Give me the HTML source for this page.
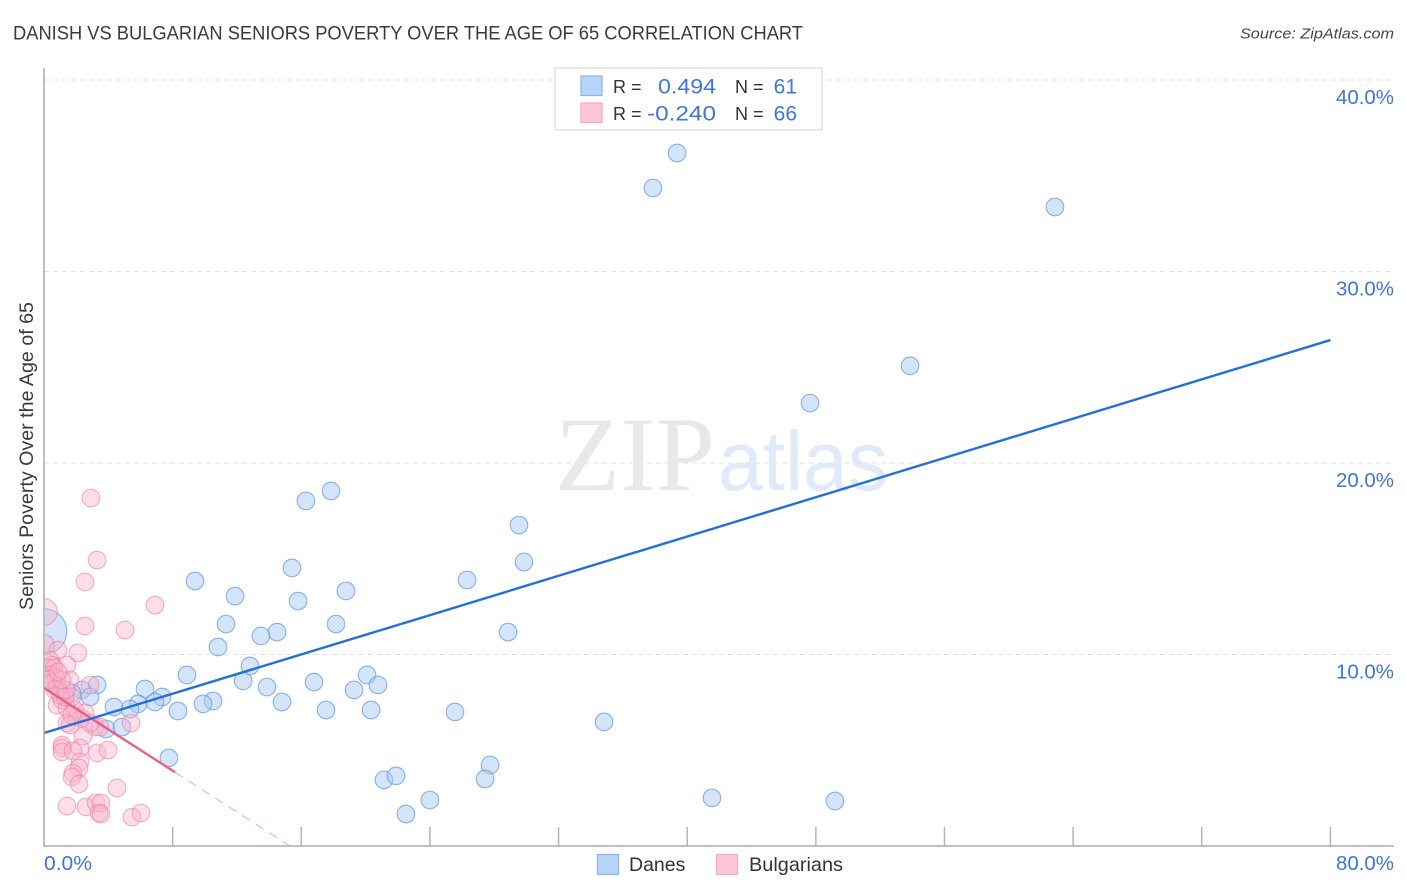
<!DOCTYPE html>
<html>
<head>
<meta charset="utf-8">
<title>Danish vs Bulgarian Seniors Poverty Correlation Chart</title>
<style>
html,body{margin:0;padding:0;background:#fff;width:1406px;height:892px;overflow:hidden}
svg{display:block;font-family:"Liberation Sans",sans-serif}
</style>
</head>
<body>
<svg id="chart" width="1406" height="892" viewBox="0 0 1406 892" xmlns="http://www.w3.org/2000/svg">
  <defs>
    <clipPath id="plot-clip"><rect x="45" y="60" width="1350" height="786"/></clipPath>
  </defs>
  <text x="13" y="39.5" font-size="19" fill="#3a3a3a" textLength="790" lengthAdjust="spacingAndGlyphs">DANISH VS BULGARIAN SENIORS POVERTY OVER THE AGE OF 65 CORRELATION CHART</text>
  <text x="1394" y="38.5" font-size="15" font-style="italic" fill="#444" text-anchor="end" textLength="154" lengthAdjust="spacingAndGlyphs">Source: ZipAtlas.com</text>
  <g id="grid"></g>
  <g>
    <text x="555" y="490" font-family="'Liberation Serif',serif" font-size="106" fill="#e8e8e8" textLength="160" lengthAdjust="spacingAndGlyphs">ZIP</text>
    <text x="718" y="490" font-size="84" fill="#e1eafa" textLength="170" lengthAdjust="spacingAndGlyphs">atlas</text>
  </g>
  <g id="points" clip-path="url(#plot-clip)"></g>
  <g id="trends"></g>
  <g id="axes"></g>
  <text transform="translate(33,456) rotate(-90)" font-size="19" fill="#3a3a3a" text-anchor="middle" textLength="308" lengthAdjust="spacingAndGlyphs">Seniors Poverty Over the Age of 65</text>

  <g>
    <rect x="555" y="68" width="267" height="62" fill="#fff" fill-opacity="0.9" stroke="#e2e2e2" stroke-width="1.5"/>
    <rect x="581" y="76" width="21" height="19.5" fill="#b8d4f8" stroke="#8cb3e6" stroke-width="1.2"/>
    <rect x="581" y="103" width="21" height="19.5" fill="#fcc6d8" stroke="#f4a9c2" stroke-width="1.2"/>
    <text x="613" y="93" font-size="18" fill="#333">R =</text>
    <text x="716" y="93.5" font-size="21" fill="#3f76d6" text-anchor="end" textLength="58" lengthAdjust="spacingAndGlyphs">0.494</text>
    <text x="735" y="93" font-size="18" fill="#333">N =</text>
    <text x="797" y="93.5" font-size="21" fill="#3f76d6" text-anchor="end">61</text>
    <text x="613" y="120" font-size="18" fill="#333">R =</text>
    <text x="716" y="120.5" font-size="21" fill="#3f76d6" text-anchor="end" textLength="69" lengthAdjust="spacingAndGlyphs">-0.240</text>
    <text x="735" y="120" font-size="18" fill="#333">N =</text>
    <text x="797" y="120.5" font-size="21" fill="#3f76d6" text-anchor="end">66</text>
  </g>

  <g>
    <g>
      <rect x="597.5" y="854.5" width="21" height="20" fill="#b8d4f8" stroke="#8cb3e6" stroke-width="1.2"/>
      <text x="629" y="871" font-size="19.5" fill="#333">Danes</text>
    </g>
    <g>
      <rect x="716.5" y="854.5" width="21" height="20" fill="#fcc6d8" stroke="#f4a9c2" stroke-width="1.2"/>
      <text x="749" y="871" font-size="19.5" fill="#333" textLength="94" lengthAdjust="spacingAndGlyphs">Bulgarians</text>
    </g>
  </g>
</svg>
<script>
const danesX = [39.37,37.87,62.87,53.86,47.64,17.85,16.29,29.54,29.85,15.42,9.39,26.31,18.78,11.88,15.80,11.32,18.16,14.49,13.49,28.86,0,10.82,12.81,8.89,20.09,12.38,16.79,20.77,13.87,19.28,6.28,3.30,2.36,1.74,2.86,7.34,10.51,9.89,14.80,5.85,6.90,5.35,4.35,8.33,17.54,20.34,25.56,3.86,4.85,34.83,7.77,27.74,21.14,21.89,27.43,24.0,22.51,41.54,49.19,0.8,1.3];
const danesY = [36.19,34.36,33.37,25.07,23.13,18.54,18.02,16.76,14.83,14.52,13.84,13.89,13.32,13.05,12.79,11.59,11.59,11.17,10.97,11.17,11.2,10.39,9.40,8.93,8.93,8.62,8.56,8.41,8.30,8.15,8.20,8.41,8.15,7.99,7.78,7.78,7.57,7.42,7.52,7.42,7.52,7.15,7.26,7.05,7.10,7.10,7.00,6.11,6.21,6.48,4.60,4.23,3.45,3.66,3.50,2.40,1.67,2.51,2.35,8.4,7.8];
const danesWeight = [1,1,1,1,1,1,1,1,1,1,1,1,1,1,1,1,1,1,1,1,6.7,1,1,1,1,1,1,1,1,1,1,1,1,1,1,1,1,1,1,1,1,1,1,1,1,1,1,1,1,1,1,1,1,1,1,1,1,1,1,1,1];

const bulgariansX = [2.92,3.30,2.55,6.90,0,2.55,5.04,0,2.11,0.87,1.43,0.37,0.5,0.25,0.62,0.37,0.75,0.19,0.5,0.87,1.62,0.68,2.86,0.81,1.12,1.43,1.93,1.31,1.74,2.05,2.36,1.43,1.62,3.17,3.48,5.41,2.43,1.12,1.12,1.12,2.24,1.8,3.3,3.98,2.24,2.18,1.8,1.74,2.18,4.54,1.43,2.61,3.23,3.54,3.42,3.54,5.47,6.03,1.0,1.37,2.55,2.86,1.74,0.25,1.12,0.87];
const bulgariansY = [18.17,14.93,13.79,12.58,12.22,11.49,11.28,10.5,10.08,10.23,9.45,9.71,9.45,9.3,9.3,8.93,8.77,8.77,8.51,8.3,8.67,8.15,8.41,7.36,7.62,7.2,7.1,7.78,7.78,6.74,6.68,6.42,6.32,6.21,6.21,6.42,5.74,5.27,5.12,4.91,5.12,4.96,4.86,5.01,4.39,4.07,3.81,3.6,3.24,3.03,2.09,2.04,2.25,2.25,1.72,1.67,1.51,1.72,7.89,8.15,6.95,6.42,6.84,8.67,8.67,9.09];
const bulgariansWeight = [1,1,1,1,2.3,1,1,1.4,1,1,1,1,1,1,1,1,1,1,1,1,1,1,1,1,1,1,1,1,1,1,1,1,1,1,1,1,1,1,1,1,1,1,1,1,1,1,1,1,1,1,1,1,1,1,1,1,1,1,1,1,1,1,1,1,1,1];

const xTickValues = [8,16,24,32,40,48,56,64,72,80];
const yTickValues = [10,20,30,40];
const yTickLabels = ["10.0%","20.0%","30.0%","40.0%"];
const xEndValues = [0,80];
const xEndLabels = ["0.0%","80.0%"];

const danesTrendX = [0,80];
const danesTrendY = [5.9,26.42];
const bulgariansTrendX = [0,8.15];
const bulgariansTrendY = [8.25,3.85];
const bulgariansDashX = [8.15,15.3];
const bulgariansDashY = [3.85,0];

const NS = 'http://www.w3.org/2000/svg';
function sx(v){ return 44 + v * 16.08; }
function sy(v){ return 846 - v * 19.15; }
function make(tag, attrs, parent){
  const el = document.createElementNS(NS, tag);
  for (const k in attrs) el.setAttribute(k, attrs[k]);
  parent.appendChild(el);
  return el;
}

const grid = document.getElementById('grid');
yTickValues.forEach(function(v){
  const g = make('line', {x1:44, x2:1394, y1:sy(v), y2:sy(v), stroke:'#e2e2e2', 'stroke-width':1, 'stroke-dasharray':'5 4'}, grid);
  
  
});

const axes = document.getElementById('axes');
const yAxis = make('line', {x1:44, x2:44, y1:68, y2:846.8, stroke:'#aaa', 'stroke-width':1.5}, axes);


const xAxis = make('line', {x1:43.2, x2:1394, y1:846, y2:846, stroke:'#aaa', 'stroke-width':1.5}, axes);


xTickValues.forEach(function(v){
  const t = make('line', {x1:sx(v), x2:sx(v), y1:827, y2:846, stroke:'#b4b4b4', 'stroke-width':1.5}, axes);
  
  
});
yTickValues.forEach(function(v, i){
  const t = make('text', {x:1394, y:sy(v) + 24, 'font-size':20, fill:'#3f76d6', 'text-anchor':'end', textLength:58, lengthAdjust:'spacingAndGlyphs'}, axes);
  
  
  t.textContent = yTickLabels[i];
});
xEndValues.forEach(function(v, i){
  const t = make('text', {x: i === 0 ? sx(v) : 1394, y:870, 'font-size':20, fill:'#3f76d6', 'text-anchor': i === 0 ? 'start' : 'end', textLength: i === 0 ? 48 : 58, lengthAdjust:'spacingAndGlyphs'}, axes);
  
  
  t.textContent = xEndLabels[i];
});

const points = document.getElementById('points');
danesX.forEach(function(v, i){
  const c = make('circle', {cx:sx(v), cy:sy(danesY[i]), r:8.8 * Math.sqrt(danesWeight[i]), fill:'#a9c9f3', 'fill-opacity':0.5, stroke:'#5d94de', 'stroke-opacity':0.7, 'stroke-width':1.1}, points);
  
  
});
bulgariansX.forEach(function(v, i){
  const c = make('circle', {cx:sx(v), cy:sy(bulgariansY[i]), r:8.8 * Math.sqrt(bulgariansWeight[i]), fill:'#f9b3ca', 'fill-opacity':0.42, stroke:'#ee7fa3', 'stroke-opacity':0.62, 'stroke-width':1.1}, points);
  
  
});

const trends = document.getElementById('trends');
const dashLine = make('line', {x1:sx(bulgariansDashX[0]), y1:sy(bulgariansDashY[0]), x2:sx(bulgariansDashX[1]), y2:sy(bulgariansDashY[1]), stroke:'#f0a6bd', 'stroke-width':1, 'stroke-dasharray':'9 7'}, trends);


const pinkLine = make('line', {x1:sx(bulgariansTrendX[0]), y1:sy(bulgariansTrendY[0]), x2:sx(bulgariansTrendX[1]), y2:sy(bulgariansTrendY[1]), stroke:'#e8608a', 'stroke-width':2.4}, trends);


const blueLine = make('line', {x1:sx(danesTrendX[0]), y1:sy(danesTrendY[0]), x2:sx(danesTrendX[1]), y2:sy(danesTrendY[1]), stroke:'#2470d8', 'stroke-width':2.4}, trends);


</script>
</body>
</html>
